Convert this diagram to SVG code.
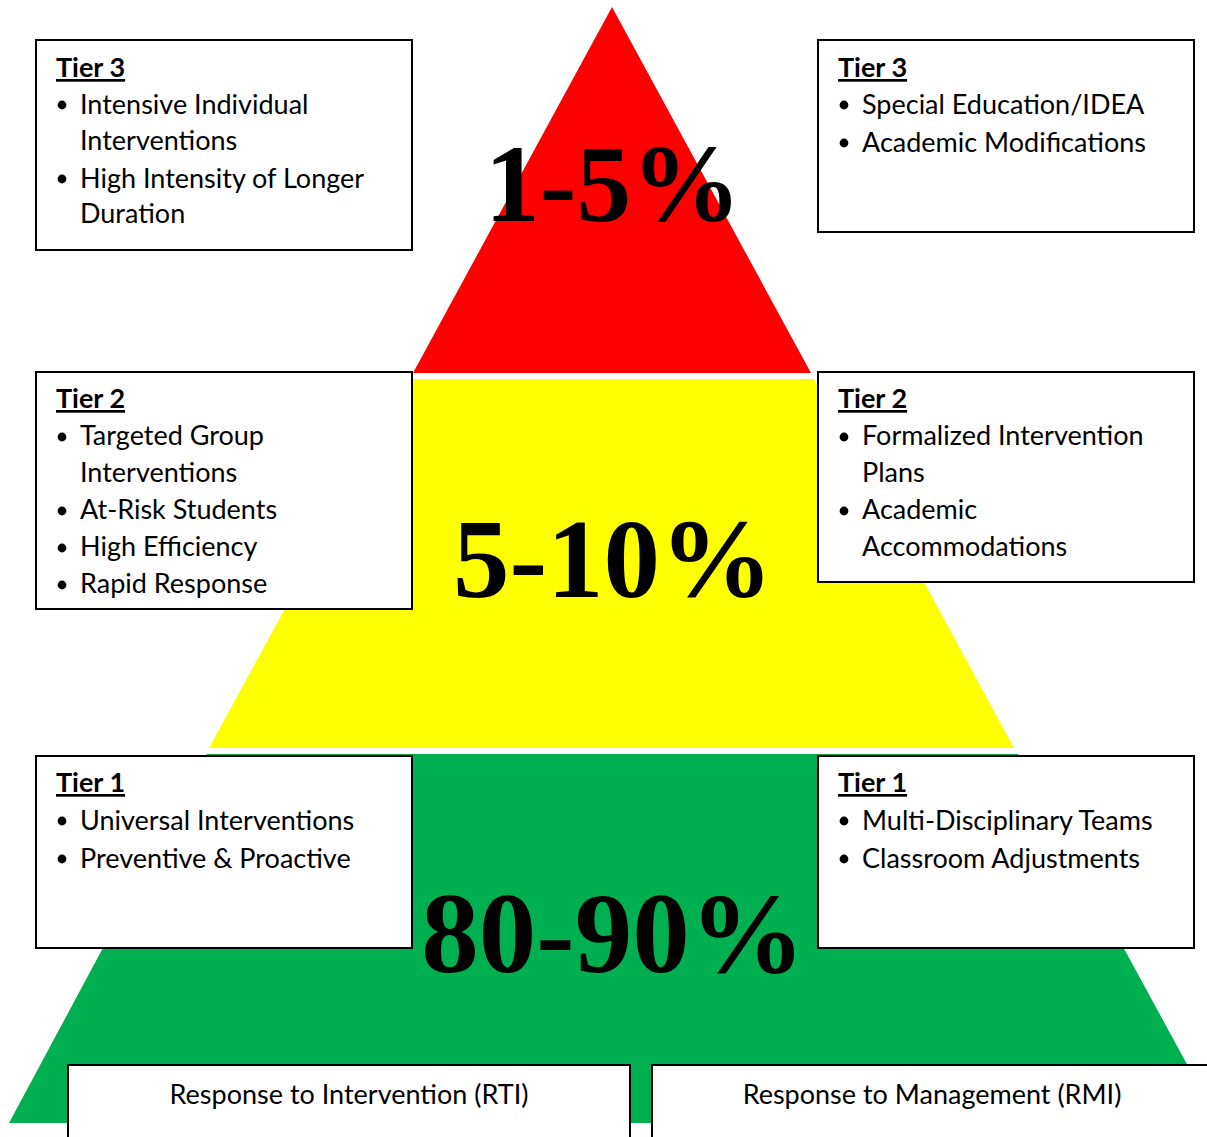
<svg xmlns="http://www.w3.org/2000/svg" width="1207" height="1137" viewBox="0 0 1207 1137">
<style>
.box{fill:#fff;stroke:#000;stroke-width:2}
.t{font-family:Lato,"Liberation Sans",sans-serif;font-size:27px;fill:#000}
.h{font-family:Lato,"Liberation Sans",sans-serif;font-size:27px;font-weight:bold;text-decoration:underline;fill:#000}
.pct{font-family:"Liberation Serif",serif;font-weight:bold;fill:#000}
.b{fill:#000}
</style>
<rect width="1207" height="1137" fill="#fff"/>
<g id="pyramid">
<polygon points="612,7 811,373 413,373" fill="#FF0000"/>
<polygon points="410,379 814,379 1014,748 209,748" fill="#FFFF00"/>
<polygon points="207,754 1018,754 1219,1123 9,1123" fill="#00B050"/>
</g>
<g id="connectors"></g>
<g id="tier3-left">
<rect class="box" x="36" y="40" width="376" height="210"/>
<text class="h" x="56" y="77">Tier 3</text>
<circle class="b" cx="62" cy="105" r="4.4"/>
<text class="t" x="80" y="114">Intensive Individual</text>
<text class="t" x="80" y="150">Interventions</text>
<circle class="b" cx="62" cy="179" r="4.4"/>
<text class="t" x="80" y="188">High Intensity of Longer</text>
<text class="t" x="80" y="223">Duration</text>
</g>
<g id="tier3-right">
<rect class="box" x="818" y="40" width="376" height="192"/>
<text class="h" x="838" y="77">Tier 3</text>
<circle class="b" cx="844" cy="105" r="4.4"/>
<text class="t" x="862" y="114">Special Education/IDEA</text>
<circle class="b" cx="844" cy="143" r="4.4"/>
<text class="t" x="862" y="152">Academic Modifications</text>
</g>
<g id="tier2-left">
<rect class="box" x="36" y="372" width="376" height="237"/>
<text class="h" x="56" y="408">Tier 2</text>
<circle class="b" cx="62" cy="437" r="4.4"/>
<text class="t" x="80" y="445">Targeted Group</text>
<text class="t" x="80" y="482">Interventions</text>
<circle class="b" cx="62" cy="511" r="4.4"/>
<text class="t" x="80" y="519">At-Risk Students</text>
<circle class="b" cx="62" cy="548" r="4.4"/>
<text class="t" x="80" y="556">High Efficiency</text>
<circle class="b" cx="62" cy="585" r="4.4"/>
<text class="t" x="80" y="593">Rapid Response</text>
</g>
<g id="tier2-right">
<rect class="box" x="818" y="372" width="376" height="210"/>
<text class="h" x="838" y="408">Tier 2</text>
<circle class="b" cx="844" cy="437" r="4.4"/>
<text class="t" x="862" y="445">Formalized Intervention</text>
<text class="t" x="862" y="482">Plans</text>
<circle class="b" cx="844" cy="511" r="4.4"/>
<text class="t" x="862" y="519">Academic</text>
<text class="t" x="862" y="556">Accommodations</text>
</g>
<g id="tier1-left">
<rect class="box" x="36" y="756" width="376" height="192"/>
<text class="h" x="56" y="792">Tier 1</text>
<circle class="b" cx="62" cy="821" r="4.4"/>
<text class="t" x="80" y="830">Universal Interventions</text>
<circle class="b" cx="62" cy="859" r="4.4"/>
<text class="t" x="80" y="868">Preventive &amp; Proactive</text>
</g>
<g id="tier1-right">
<rect class="box" x="818" y="756" width="376" height="192"/>
<text class="h" x="838" y="792">Tier 1</text>
<circle class="b" cx="844" cy="821" r="4.4"/>
<text class="t" x="862" y="830">Multi-Disciplinary Teams</text>
<circle class="b" cx="844" cy="859" r="4.4"/>
<text class="t" x="862" y="868">Classroom Adjustments</text>
</g>
<g id="rti">
<rect class="box" x="68" y="1065" width="562" height="90"/>
<text class="t" x="349" y="1104" text-anchor="middle">Response to Intervention (RTI)</text>
</g>
<g id="rmi">
<rect class="box" x="652" y="1065" width="570" height="90"/>
<text class="t" x="932" y="1104" text-anchor="middle">Response to Management (RMI)</text>
</g>
<g id="percentages">
<text class="pct" x="613" y="221" font-size="110" text-anchor="middle">1-5%</text>
<text class="pct" x="613" y="597" font-size="113" text-anchor="middle">5-10%</text>
<text class="pct" x="613" y="972" font-size="115" text-anchor="middle">80-90%</text>
</g>
</svg>
